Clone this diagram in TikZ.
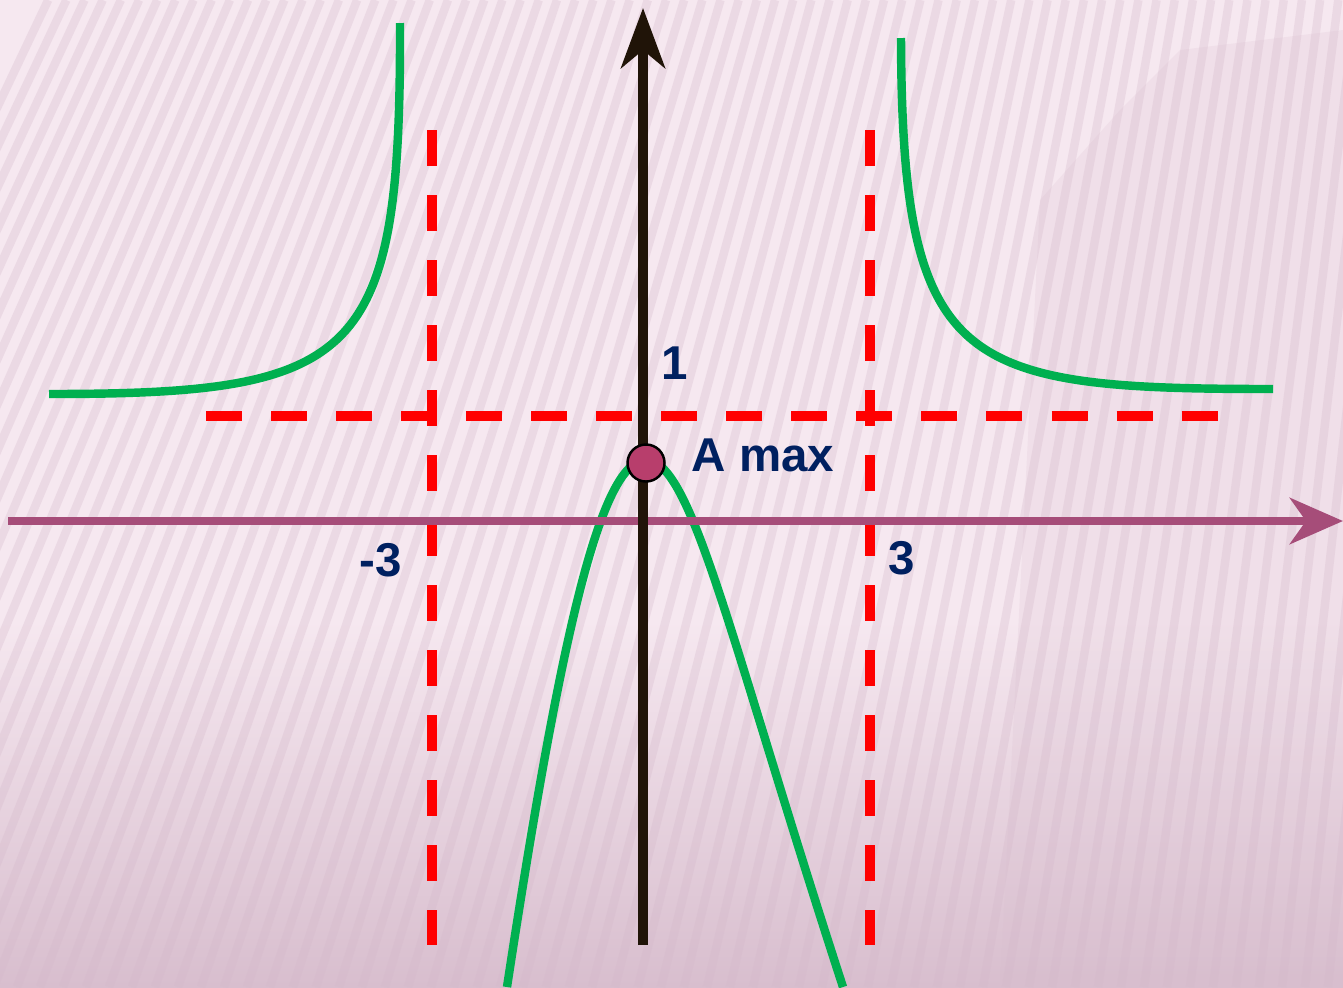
\documentclass[tikz,border=0pt]{standalone}
\usepackage{fontspec}
\setmainfont{Liberation Sans}
\usepackage{xcolor}
\usepackage{tikz}
\usetikzlibrary{arrows.meta}

\definecolor{bgpink}{RGB}{246,232,240}
\definecolor{bgdark}{RGB}{216,190,206}
\definecolor{stripepink}{RGB}{212,184,202}
\definecolor{curvegreen}{RGB}{0,176,80}
\definecolor{axismauve}{RGB}{166,77,121}
\definecolor{axisdark}{RGB}{32,20,8}
\definecolor{labelnavy}{RGB}{0,32,96}
\definecolor{pointrose}{RGB}{184,62,108}

\begin{document}
\begin{tikzpicture}[x=0.01cm, y=-0.01cm, curve/.style={curvegreen, line width=2.4pt}, asym/.style={red, line width=2.6pt, dash pattern=on 0.36cm off 0.29cm}, lbl/.style={labelnavy, inner sep=0pt, font=\bfseries\fontsize{13.5}{16}\selectfont}]
  \useasboundingbox (0,0) rectangle (1343,987);
  % background
  \fill[bgpink] (0,0) rectangle (1343,987);
  \shade[top color=bgpink, bottom color=bgdark] (0,620) rectangle (1343,987);
  \fill[bgdark, opacity=0.2] (1343,30) -- (1180,50) -- (1120,110) -- (1040,200) -- (1000,987) -- (1343,987) -- cycle;
  \begin{scope}
    \clip (0,0) rectangle (1343,987);
    \foreach \i in {0,...,78} {
      \pgfmathsetmacro\xb{-420+23*\i}
      \pgfmathsetmacro\xt{\xb+380-0.21*\xb}
      \draw[stripepink, line width=2.4pt, opacity=0.3] (\xb,987) -- (\xt,0);
    }
  \end{scope}

  \coordinate (xl) at (8,521);
  \coordinate (xr) at (1343,521);
  \coordinate (yb) at (643,945);
  \coordinate (yt) at (643,8);

  % asymptotes
  \draw[asym] (432,130) -- (432,945);
  \draw[asym] (870,130) -- (870,945);
  \draw[asym] (206,416) -- (1218,416);

  % graph
  \draw[curve] (49,394) .. controls (360,394) and (401,360) .. (400,23);
  \draw[curve] (901,38) .. controls (902,370) and (960,389) .. (1273,389);
  \draw[curve] (507,987) .. controls (560,640) and (600,460) .. (646,460)
    .. controls (692,460) and (730,640) .. (843,987);

  % axes
  \draw[axismauve, line width=2.5pt, -{Stealth[length=0.53cm, width=0.46cm, inset=0.16cm]}] (xl) -- (xr);
  \draw[axisdark, line width=2.6pt, -{Stealth[length=0.6cm, width=0.44cm, inset=0.18cm]}] (yb) -- (yt);

  \node[circle, draw=black, fill=pointrose, line width=0.7pt, minimum size=0.37cm, inner sep=0pt] (A) at (646,463) {};

  \node[lbl] (one) at (675,363) {1};
  \node[lbl] (amax) at (763,455) {A max};
  \node[lbl] (mthree) at (381,560) {-3};
  \node[lbl] (three) at (902,558) {3};
\end{tikzpicture}
\end{document}
